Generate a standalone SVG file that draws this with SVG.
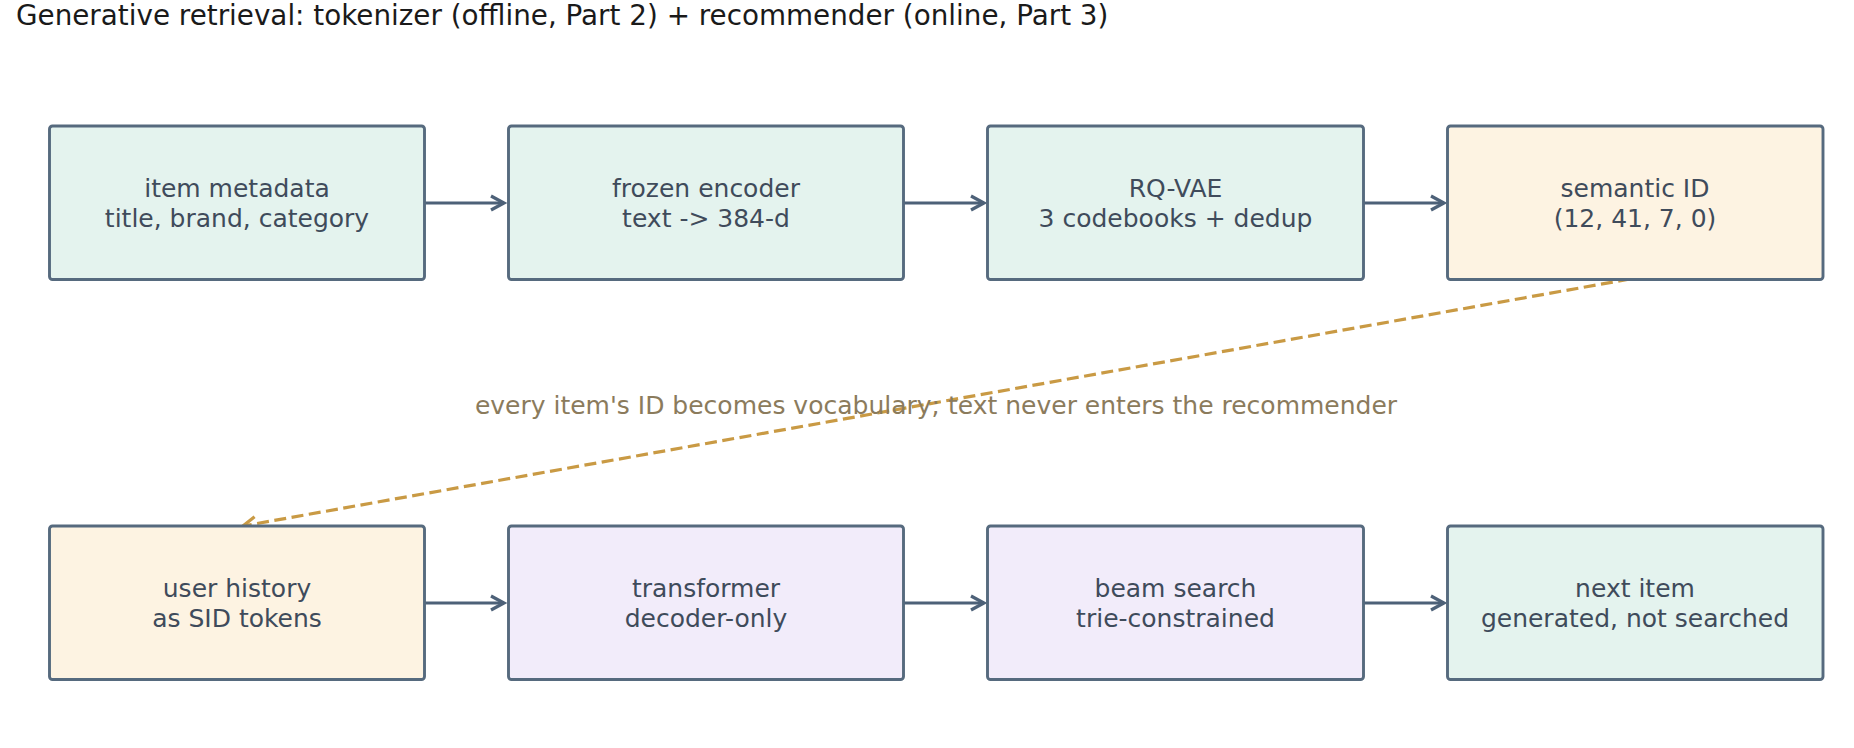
<svg xmlns="http://www.w3.org/2000/svg" width="1854" height="748" viewBox="0 0 1854 748">
<style>
  .box { stroke: #566a7e; stroke-width: 2.9; }
  .g { fill: #e4f3ee; }
  .c { fill: #fdf3e2; }
  .p { fill: #f2ecfa; }
  .t { font-family: "DejaVu Sans", sans-serif; font-size: 25px; fill: #3f4b5b; text-anchor: middle; }
  .flow { stroke: #4d6178; stroke-width: 3; fill: none; }
  .dash { stroke: #c99a44; stroke-width: 3.2; fill: none; stroke-dasharray: 12 5.5; }
</style>
<defs>
  <marker id="ah" markerUnits="userSpaceOnUse" markerWidth="20" markerHeight="20" refX="16" refY="10" orient="auto" viewBox="0 0 20 20">
    <path d="M3,3 L16,10 L3,17" fill="none" stroke="#4d6178" stroke-width="3.2" stroke-linejoin="miter"/>
  </marker>
  <marker id="ahg" markerUnits="userSpaceOnUse" markerWidth="20" markerHeight="20" refX="16" refY="10" orient="auto" viewBox="0 0 20 20">
    <path d="M3,3 L16,10 L3,17" fill="none" stroke="#c99a44" stroke-width="3.2"/>
  </marker>
</defs>
<rect width="1854" height="748" fill="#ffffff"/>
<text x="16" y="25" font-family="DejaVu Sans, sans-serif" font-size="27.8" fill="#1a1a1a">Generative retrieval: tokenizer (offline, Part 2) + recommender (online, Part 3)</text>

<g id="connectors">
  <line class="flow" x1="424.5" y1="203" x2="504" y2="203" marker-end="url(#ah)"/>
  <line class="flow" x1="903.5" y1="203" x2="984" y2="203" marker-end="url(#ah)"/>
  <line class="flow" x1="1363.5" y1="203" x2="1444" y2="203" marker-end="url(#ah)"/>
  <line class="flow" x1="424.5" y1="603" x2="504" y2="603" marker-end="url(#ah)"/>
  <line class="flow" x1="903.5" y1="603" x2="984" y2="603" marker-end="url(#ah)"/>
  <line class="flow" x1="1363.5" y1="603" x2="1444" y2="603" marker-end="url(#ah)"/>
  <line class="dash" x1="1630" y1="279" x2="243" y2="526" marker-end="url(#ahg)"/>
  <text x="936" y="414" font-family="DejaVu Sans, sans-serif" font-size="25" fill="#8b7b5c" text-anchor="middle">every item's ID becomes vocabulary; text never enters the recommender</text>
</g>

<g id="item-metadata">
  <rect class="box g" x="49.5" y="126" width="375" height="153.5" rx="3"/>
  <text class="t" x="237" y="197">item metadata</text>
  <text class="t" x="237" y="227">title, brand, category</text>
</g>
<g id="frozen-encoder">
  <rect class="box g" x="508.5" y="126" width="395" height="153.5" rx="3"/>
  <text class="t" x="706" y="197">frozen encoder</text>
  <text class="t" x="706" y="227">text -&gt; 384-d</text>
</g>
<g id="rq-vae">
  <rect class="box g" x="987.5" y="126" width="376" height="153.5" rx="3"/>
  <text class="t" x="1175.5" y="197">RQ-VAE</text>
  <text class="t" x="1175.5" y="227">3 codebooks + dedup</text>
</g>
<g id="semantic-id">
  <rect class="box c" x="1447.5" y="126" width="375.5" height="153.5" rx="3"/>
  <text class="t" x="1635" y="197">semantic ID</text>
  <text class="t" x="1635" y="227">(12, 41, 7, 0)</text>
</g>

<g id="user-history">
  <rect class="box c" x="49.5" y="526" width="375" height="153.5" rx="3"/>
  <text class="t" x="237" y="597">user history</text>
  <text class="t" x="237" y="627">as SID tokens</text>
</g>
<g id="transformer">
  <rect class="box p" x="508.5" y="526" width="395" height="153.5" rx="3"/>
  <text class="t" x="706" y="597">transformer</text>
  <text class="t" x="706" y="627">decoder-only</text>
</g>
<g id="beam-search">
  <rect class="box p" x="987.5" y="526" width="376" height="153.5" rx="3"/>
  <text class="t" x="1175.5" y="597">beam search</text>
  <text class="t" x="1175.5" y="627">trie-constrained</text>
</g>
<g id="next-item">
  <rect class="box g" x="1447.5" y="526" width="375.5" height="153.5" rx="3"/>
  <text class="t" x="1635" y="597">next item</text>
  <text class="t" x="1635" y="627">generated, not searched</text>
</g>
</svg>
